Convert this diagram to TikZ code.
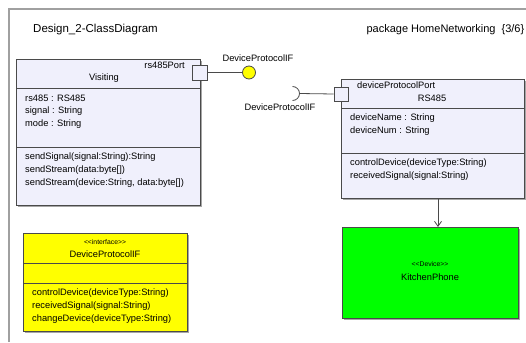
\documentclass[tikz,border=0pt]{standalone}
\usepackage{fontspec}
\setmainfont{Liberation Sans}
\usetikzlibrary{arrows.meta,shadows}
\definecolor{lav}{HTML}{F0F0FC}
\definecolor{bord}{HTML}{4A4A4A}
\definecolor{framec}{HTML}{A0A0A0}
\definecolor{ifyellow}{HTML}{FFFF00}
\definecolor{devgreen}{HTML}{00FF00}
\newcommand{\ltlt}{<\kern0pt<}
\newcommand{\gtgt}{>\kern0pt>}
\begin{document}
\begin{tikzpicture}[x=1pt,y=-1pt,
  box/.style={draw=bord, line width=0.9pt, anchor=north west, inner sep=0,
    drop shadow={shadow xshift=1.5pt, shadow yshift=-1.5pt, fill=black!35, opacity=1}},
  sep/.style={draw=bord, line width=0.9pt},
  txt/.style={inner sep=0, anchor=west, font=\fontsize{9.3}{11}\selectfont},
  ctxt/.style={inner sep=0, font=\fontsize{9.3}{11}\selectfont},
  stereo/.style={inner sep=0, font=\fontsize{6.8}{8}\selectfont},
  title/.style={inner sep=0, font=\fontsize{11.5}{14}\selectfont},
  portsq/.style={draw=bord, line width=0.9pt, fill=lav, minimum size=15pt, inner sep=0},
  conn/.style={draw=bord, line width=0.8pt}]
\useasboundingbox (0,0) rectangle (526,342);
% frame
\draw[framec, line width=1.3pt] (9,342) -- (9,9) -- (526,9);
\node[title, anchor=west] (t1) at (33,30) {Design\_2-ClassDiagram};
\node[title, anchor=east, font=\fontsize{11}{14}\selectfont] (t2) at (524.5,30) {package HomeNetworking\ \ \{3/6\}};

% Visiting class
\node[box, fill=lav, minimum width=184pt, minimum height=146pt] (vis) at (16,59) {};
\draw[sep] (16,88) -- (200,88);
\draw[sep] (16,147) -- (200,147);
\node[ctxt, anchor=east] (visport) at (185,65) {rs485Port};
\node[ctxt] (visname) at (104,78) {Visiting};
\node[txt] (va1) at (25,98) {rs485 : RS485};
\node[txt] (va2) at (25,111) {signal : String};
\node[txt] (va3) at (25,124) {mode : String};
\node[txt] (vm1) at (25,157) {sendSignal(signal:String):String};
\node[txt] (vm2) at (25,170) {sendStream(data:byte[])};
\node[txt] (vm3) at (25,183) {sendStream(device:String, data:byte[])};

% RS485 class
\node[box, fill=lav, minimum width=183pt, minimum height=119pt] (rs) at (341,79) {};
\draw[sep] (341,108) -- (524,108);
\draw[sep] (341,153) -- (524,153);
\node[ctxt, anchor=west] (rsport) at (357,85) {deviceProtocolPort};
\node[ctxt] (rsname) at (432,98) {RS485};
\node[txt] (ra1) at (350,118) {deviceName : String};
\node[txt] (ra2) at (350,131) {deviceNum : String};
\node[txt] (rm1) at (350,163) {controlDevice(deviceType:String)};
\node[txt] (rm2) at (350,176) {receivedSignal(signal:String)};

% ports and interfaces
\node[portsq] (p1) at (200,72.5) {};
\node[circle, draw=bord, line width=0.8pt, fill=ifyellow, minimum size=13pt, inner sep=0] (lol) at (249,72.5) {};
\draw[conn] (p1.east) -- (lol.west);
\node[ctxt] (lollab) at (258,58) {DeviceProtocolIF};

\node[portsq, minimum size=14pt] (p2) at (341,94) {};
\coordinate (sockc) at (292.5,93.5);
\coordinate (socktip) at (299.5,93.5);
\draw[conn] (sockc) ++(0,7) arc[start angle=90, end angle=-90, radius=7];
\draw[conn] (socktip) -- (p2.west);
\node[ctxt] (socklab) at (280,107) {DeviceProtocolIF};

% Interface
\node[box, fill=ifyellow, minimum width=164pt, minimum height=98pt] (ifc) at (23,233) {};
\draw[sep] (23,263) -- (187,263);
\draw[sep] (23,283) -- (187,283);
\node[stereo] (ifst) at (105,242) {\ltlt interface\gtgt};
\node[ctxt] (ifname) at (105,254) {DeviceProtocolIF};
\node[txt] (im1) at (32,293) {controlDevice(deviceType:String)};
\node[txt] (im2) at (32,306) {receivedSignal(signal:String)};
\node[txt] (im3) at (32,319) {changeDevice(deviceType:String)};

% Device
\node[box, fill=devgreen, minimum width=176pt, minimum height=91pt] (kp) at (342,227) {};
\node[stereo] (kpst) at (430,264) {\ltlt Device\gtgt};
\node[ctxt] (kpname) at (430,277) {KitchenPhone};

\draw[conn, -{Straight Barb[length=5pt,width=7pt]}] (rs.south -| 438,0) -- (kp.north -| 438,0);
\end{tikzpicture}
\end{document}
